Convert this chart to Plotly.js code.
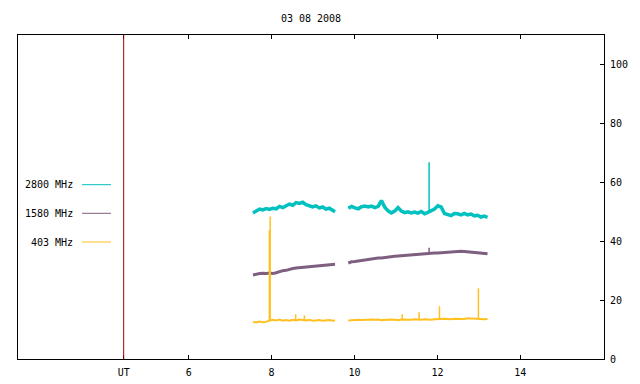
<!DOCTYPE html>
<html>
<head>
<meta charset="utf-8">
<script src="https://cdn.plot.ly/plotly-3.0.1.min.js"></script>
<style>html,body{margin:0;padding:0;background:#fff;}#chart{width:640px;height:384px;}</style>
</head>
<body>
<div id="chart"></div>
<script>
// ---- data (UT hours, flux values) ----
const seriesNames = ["2800 MHz", "1580 MHz", "403 MHz"];
const seriesColors = ["#00c0c0", "#7f5f7f", "#ffc020"];
const utMarker = 4.43;
const xTickVals = [4.43, 6, 8, 10, 12, 14];
const xTickText = ["UT", "6", "8", "10", "12", "14"];
const yTickVals = [0, 20, 40, 60, 80, 100];

const t1 = [7.55, 7.63, 7.71, 7.79, 7.87, 7.95, 8.03, 8.11, 8.19, 8.27, 8.35, 8.43, 8.51,
  8.59, 8.67, 8.75, 8.83, 8.91, 8.99, 9.07, 9.15, 9.23, 9.31, 9.39, 9.47, 9.53];
const t2 = [9.85, 9.93, 10.01, 10.09, 10.17, 10.25, 10.33, 10.41, 10.49, 10.57, 10.65, 10.73,
  10.81, 10.89, 10.97, 11.05, 11.13, 11.21, 11.29, 11.37, 11.45, 11.53, 11.61, 11.69, 11.77,
  11.85, 11.93, 12.01, 12.09, 12.17, 12.25, 12.33, 12.41, 12.49, 12.57, 12.65, 12.73, 12.81,
  12.89, 12.97, 13.05, 13.13, 13.21];

const c1 = [49.6, 50.4, 50.9, 50.6, 51.1, 50.8, 51.2, 51.0, 51.8, 51.4, 52.0, 52.6, 52.2,
  53.1, 52.8, 53.2, 52.4, 52.0, 51.6, 52.0, 51.3, 51.6, 50.9, 51.2, 50.3, 50.0];
const c2 = [51.2, 51.8, 51.3, 51.0, 51.7, 51.9, 51.6, 51.9, 51.4, 51.8, 53.8, 51.5, 50.3,
  49.6, 50.2, 51.4, 50.2, 49.7, 50.0, 49.6, 49.9, 49.5, 50.1, 49.3, 49.8, 50.3, 50.9, 52.0,
  51.6, 49.4, 49.1, 48.7, 49.4, 49.3, 48.9, 49.4, 48.9, 49.2, 48.6, 48.8, 48.2, 48.5, 48.1];

const p1 = [28.5, 28.8, 29.0, 29.1, 29.0, 29.2, 29.0, 29.3, 29.7, 30.0, 30.1, 30.5, 30.7,
  30.9, 31.0, 31.2, 31.3, 31.2, 31.5, 31.6, 31.7, 31.8, 31.9, 32.0, 32.1, 32.2];
const p2 = [32.6, 33.0, 33.1, 33.3, 33.5, 33.6, 33.8, 33.9, 34.1, 34.3, 34.3, 34.5, 34.6,
  34.8, 34.9, 35.0, 35.1, 35.3, 35.4, 35.4, 35.5, 35.6, 35.7, 35.7, 35.8, 35.9, 36.0, 36.0,
  36.1, 36.2, 36.3, 36.4, 36.5, 36.5, 36.6, 36.5, 36.4, 36.4, 36.3, 36.1, 36.0, 35.9, 35.7];

const o1 = [12.6, 12.4, 12.7, 12.5, 12.6, 13.1, 13.3, 13.1, 13.4, 13.0, 13.2, 13.0, 13.3,
  13.1, 13.4, 13.2, 13.1, 13.3, 13.0, 13.1, 13.2, 13.0, 13.1, 13.2, 13.0, 13.1];
const o2 = [13.1, 13.2, 13.2, 13.3, 13.2, 13.3, 13.2, 13.4, 13.3, 13.4, 13.2, 13.3, 13.3,
  13.4, 13.3, 13.2, 13.4, 13.3, 13.4, 13.3, 13.5, 13.4, 13.3, 13.5, 13.4, 13.3, 13.5, 13.6,
  13.5, 13.7, 13.6, 13.5, 13.7, 13.6, 13.5, 13.6, 13.8, 13.7, 13.6, 13.5, 13.6, 13.5, 13.6];

// spikes: time, base value, peak value
const cSpikeT = [11.80];
const cSpikeBase = [50.1];
const cSpikePeak = [66.8];
const pSpikeT = [11.80];
const pSpikeBase = [35.8];
const pSpikePeak = [37.8];
const oSpikeT = [7.945, 7.965, 8.58, 8.79, 11.15, 11.56, 12.05, 12.99];
const oSpikeBase = [12.8, 12.8, 13.2, 13.2, 13.3, 13.4, 13.5, 13.6];
const oSpikePeak = [43.7, 48.4, 15.2, 14.8, 15.2, 15.9, 17.9, 24.0];

// ---- build traces ----
function joinSeg(a, b) { return a.concat([null], b); }
const tAll = joinSeg(t1, t2);
function spikeTrace(ts, base, peak, color) {
  const x = [], y = [];
  ts.forEach((t, i) => { x.push(t, t, null); y.push(base[i], peak[i], null); });
  return {x, y, type: "scatter", mode: "lines", line: {color, width: 1.5},
    showlegend: false, hoverinfo: "skip", connectgaps: false};
}
const widths = [3.5, 3, 2];
const vals = [joinSeg(c1, c2), joinSeg(p1, p2), joinSeg(o1, o2)];
const traces = [];
vals.forEach((v, i) => {
  traces.push({x: tAll, y: v, type: "scatter", mode: "lines", name: seriesNames[i],
    line: {color: seriesColors[i], width: widths[i]}, connectgaps: false, showlegend: false});
});
traces.push(spikeTrace(cSpikeT, cSpikeBase, cSpikePeak, seriesColors[0]));
traces.push(spikeTrace(pSpikeT, pSpikeBase, pSpikePeak, seriesColors[1]));
traces.push(spikeTrace(oSpikeT, oSpikeBase, oSpikePeak, seriesColors[2]));

const font = {family: "DejaVu Sans Mono, monospace", size: 10, color: "#000"};
const legY = [0.538, 0.4497, 0.3611];
const annotations = [], shapes = [];
seriesNames.forEach((n, i) => {
  annotations.push({xref: "paper", yref: "paper", x: 0.0973, y: legY[i], text: n,
    showarrow: false, xanchor: "right", yanchor: "middle", font});
  shapes.push({type: "line", xref: "paper", yref: "paper", x0: 0.1092, x1: 0.1587,
    y0: legY[i], y1: legY[i], line: {color: seriesColors[i], width: 1}});
});
shapes.push({type: "line", xref: "x", yref: "paper", x0: utMarker, x1: utMarker, y0: 0, y1: 1,
  line: {color: "#a00000", width: 1}});

const layout = {
  width: 640, height: 384,
  margin: {l: 18, r: 36, t: 35, b: 25, pad: 0},
  paper_bgcolor: "#fff", plot_bgcolor: "#fff",
  font,
  title: {text: "03 08 2008", font, x: 0.486, xanchor: "center", y: 1 - 18 / 384, yanchor: "middle"},
  showlegend: false,
  xaxis: {range: [1.88, 16.02], tickvals: xTickVals, ticktext: xTickText,
    ticks: "inside", ticklen: 4, tickcolor: "#000", showline: true, linecolor: "#000",
    linewidth: 1, mirror: "ticks", showgrid: false, zeroline: false, tickfont: font,
    ticklabelstandoff: 4},
  yaxis: {range: [0, 110], side: "right", tickvals: yTickVals, ticks: "inside", ticklen: 4,
    tickcolor: "#000", showline: true, linecolor: "#000", linewidth: 1, mirror: true,
    showgrid: false, zeroline: false, tickfont: font, ticklabelstandoff: 3},
  annotations, shapes
};
Plotly.newPlot("chart", traces, layout, {staticPlot: true, displayModeBar: false});
</script>
</body>
</html>
